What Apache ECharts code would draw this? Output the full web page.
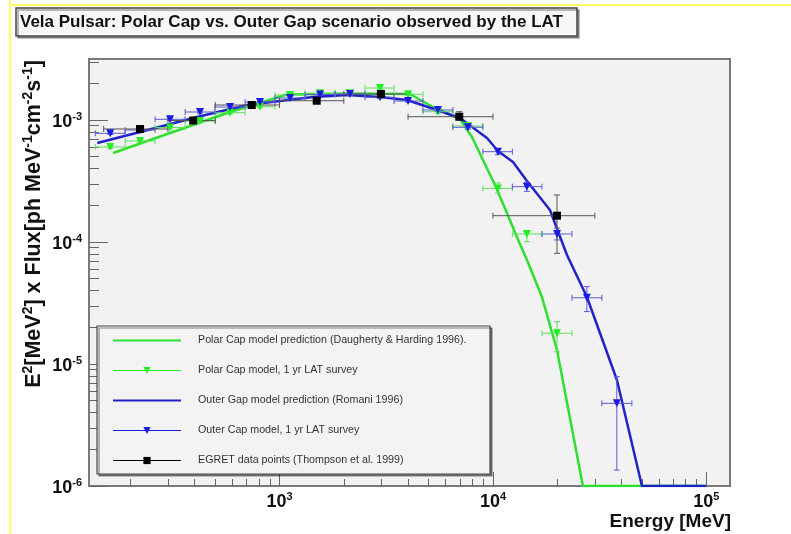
<!DOCTYPE html>
<html><head><meta charset="utf-8">
<script src="https://cdn.jsdelivr.net/npm/echarts@6/dist/echarts.min.js"></script>
<style>html,body{margin:0;padding:0;background:#ffffff}#c{width:791px;height:534px}</style>
</head><body><div id="c"></div>
<script>
// ---------------- data ----------------
const polarModelE = [166, 586, 1084, 2071, 4085, 5236, 7004, 7972, 9074, 10220, 11630, 12950, 14430, 16960, 19950, 26390, 100000];
const polarModelF = [5.36e-4, 1.163e-3, 1.618e-3, 1.649e-3, 1.633e-3, 1.278e-3, 1.019e-3, 7.26e-4, 4.53e-4, 2.93e-4, 1.729e-4, 1.099e-4, 7.12e-5, 3.54e-5, 1.302e-5, 1e-6, 1e-6];

const outerModelE = [140, 222, 411, 704, 1435, 2071, 2956, 3956, 5467, 7004, 9374, 10550, 12410, 14430, 18490, 22220, 27560, 38090, 49890, 100000];
const outerModelF = [6.48e-4, 7.97e-4, 1.058e-3, 1.327e-3, 1.543e-3, 1.603e-3, 1.543e-3, 1.459e-3, 1.208e-3, 1.038e-3, 7.12e-4, 5.57e-4, 4.53e-4, 3.16e-4, 1.83e-4, 7.82e-5, 3.54e-5, 7.39e-6, 1e-6, 1e-6];

// LAT simulated points: bin centres and bin edges (MeV)
const latE = [161, 222, 307, 424, 586, 810, 1120, 1548, 2139, 2956, 4000, 5520, 7630, 10540, 14420, 19950, 27540, 38050];
const latEdges = [137, 189, 261, 361, 498, 689, 952, 1317, 1820, 2515, 3439, 4699, 6490, 8968, 12328, 16961, 23440, 32371, 44750];

const polarLatF   = [6.01e-4, 6.73e-4, 8.68e-4, 9.81e-4, 1.148e-3, 1.285e-3, 1.603e-3, 1.655e-3, 1.655e-3, 1.828e-3, 1.625e-3, 1.17e-3, 8.93e-4, 2.75e-4, 1.164e-4, 1.787e-5];
const polarLatFlo = [5.85e-4, 6.55e-4, 8.45e-4, 9.55e-4, 1.12e-3, 1.255e-3, 1.565e-3, 1.615e-3, 1.615e-3, 1.78e-3, 1.58e-3, 1.13e-3, 8.55e-4, 2.52e-4, 1.007e-4, 1.26e-5];
const polarLatFhi = [6.17e-4, 6.9e-4, 8.9e-4, 1.007e-3, 1.176e-3, 1.315e-3, 1.64e-3, 1.695e-3, 1.695e-3, 1.875e-3, 1.67e-3, 1.21e-3, 9.3e-4, 3.05e-4, 1.216e-4, 2.22e-5];

const outerLatF   = [7.78e-4, 8.28e-4, 1.013e-3, 1.163e-3, 1.278e-3, 1.404e-3, 1.515e-3, 1.618e-3, 1.633e-3, 1.535e-3, 1.432e-3, 1.208e-3, 8.71e-4, 5.50e-4, 2.84e-4, 1.164e-4, 3.49e-5, 4.76e-6];
const outerLatFlo = [7.6e-4, 8.1e-4, 9.9e-4, 1.138e-3, 1.25e-3, 1.375e-3, 1.485e-3, 1.585e-3, 1.6e-3, 1.503e-3, 1.4e-3, 1.175e-3, 8.4e-4, 5.2e-4, 2.6e-4, 1.04e-4, 2.69e-5, 1.35e-6];
const outerLatFhi = [7.96e-4, 8.46e-4, 1.036e-3, 1.188e-3, 1.306e-3, 1.433e-3, 1.545e-3, 1.651e-3, 1.666e-3, 1.567e-3, 1.464e-3, 1.241e-3, 9.02e-4, 5.8e-4, 3.08e-4, 1.30e-4, 4.31e-5, 7.87e-6];

// EGRET data points
const egretE   = [222, 394, 741, 1493, 2986, 6950, 19950];
const egretElo = [150, 300, 500, 1000, 2000, 4000, 10000];
const egretEhi = [300, 500, 1000, 2000, 4000, 10000, 30000];
const egretF   = [8.44e-4, 9.9e-4, 1.327e-3, 1.439e-3, 1.633e-3, 1.064e-3, 1.643e-4];
const egretFlo = [8.2e-4, 9.6e-4, 1.29e-3, 1.40e-3, 1.59e-3, 1.0e-3, 8.07e-5];
const egretFhi = [8.7e-4, 1.02e-3, 1.365e-3, 1.48e-3, 1.68e-3, 1.17e-3, 2.43e-4];

// axis ticks
const xMajorTicks = [1000, 10000, 100000];
const xMinorTicks = [200, 300, 400, 500, 600, 700, 800, 900, 2000, 3000, 4000, 5000, 6000, 7000, 8000, 9000, 20000, 30000, 40000, 50000, 60000, 70000, 80000, 90000];
const yMajorTicks = [1e-6, 1e-5, 1e-4, 1e-3];
const yMinorTicks = [2e-6, 3e-6, 4e-6, 5e-6, 6e-6, 7e-6, 8e-6, 9e-6, 2e-5, 3e-5, 4e-5, 5e-5, 6e-5, 7e-5, 8e-5, 9e-5, 2e-4, 3e-4, 4e-4, 5e-4, 6e-4, 7e-4, 8e-4, 9e-4, 2e-3, 3e-3];

const names = [
  'Polar Cap model prediction (Daugherty & Harding 1996).',
  'Polar Cap model, 1 yr LAT survey',
  'Outer Gap model prediction (Romani 1996)',
  'Outer Cap model, 1 yr LAT survey',
  'EGRET data points (Thompson et al. 1999)'
];
const titleText = 'Vela Pulsar: Polar Cap vs. Outer Gap scenario observed by the LAT';
const xTitle = 'Energy [MeV]';

// ---------------- build ----------------
const FONT = '"Liberation Sans", Arial, Helvetica, sans-serif';
const C_GREEN = '#2ee02e', C_GREEN_PT = '#22f022', C_GREEN_ERR = '#5ee05e';
const C_BLUE = '#2222c8', C_BLUE_PT = '#1a1ae0', C_BLUE_ERR = '#5a5ad8';
const C_BLACK = '#000000', C_BLACK_ERR = '#555555';

const pairs = (xs, ys) => ys.map((y, i) => [xs[i], y]);
const latErr = (F, lo, hi) => F.map((f, i) => [latE[i], f, latEdges[i], latEdges[i + 1], lo[i], hi[i]]);
const egretErr = egretF.map((f, i) => [egretE[i], f, egretElo[i], egretEhi[i], egretFlo[i], egretFhi[i]]);

function errorBars(color, cap) {
  return function (params, api) {
    const x = api.value(0), y = api.value(1);
    const pL = api.coord([api.value(2), y]), pR = api.coord([api.value(3), y]);
    const pB = api.coord([x, api.value(4)]), pT = api.coord([x, api.value(5)]);
    const style = { stroke: color, lineWidth: 1 };
    const L = (x1, y1, x2, y2) => ({ type: 'line', shape: { x1, y1, x2, y2 }, style });
    return { type: 'group', children: [
      L(pL[0], pL[1], pR[0], pR[1]), L(pB[0], pB[1], pT[0], pT[1]),
      L(pL[0], pL[1] - cap, pL[0], pL[1] + cap), L(pR[0], pR[1] - cap, pR[0], pR[1] + cap),
      L(pT[0] - cap, pT[1], pT[0] + cap, pT[1]), L(pB[0] - cap, pB[1], pB[0] + cap, pB[1])
    ]};
  };
}

const supFmt = v => '{b|10}{s|' + Math.round(Math.log10(v)) + '}';
const supRich = {
  b: { fontSize: 18, fontWeight: 'bold', fontFamily: FONT, color: '#111', lineHeight: 18, padding: [4, 0, 0, 0] },
  s: { fontSize: 11, fontWeight: 'bold', fontFamily: FONT, color: '#111', lineHeight: 11, verticalAlign: 'top' }
};

const X_MIN = 128, X_MAX = 129000, Y_MIN = 1e-6, Y_MAX = 0.0031623;

const chart = echarts.init(document.getElementById('c'), null, { renderer: 'canvas' });
chart.setOption({
  backgroundColor: '#ffffff',
  animation: false,
  title: {
    text: titleText, left: 16, top: 8, padding: [6, 14, 5, 4],
    backgroundColor: '#f7f7f7', borderColor: '#444', borderWidth: 1.5,
    shadowColor: 'rgba(0,0,0,0.35)', shadowOffsetX: 2, shadowOffsetY: 2, shadowBlur: 0,
    textStyle: { fontSize: 17, fontWeight: 'bold', fontFamily: FONT, color: '#111' }
  },
  grid: { left: 89, top: 59, right: 61, bottom: 48, outerBoundsMode: 'none', containLabel: false,
    show: true, backgroundColor: '#f2f2f2', borderColor: '#7a7a7a', borderWidth: 2 },
  legend: {
    orient: 'vertical', left: 112, top: 335, itemWidth: 68, itemHeight: 9, itemGap: 19, padding: 0,
    selectedMode: false, z: 6,
    textStyle: { fontSize: 10.7, color: '#333', fontFamily: FONT, padding: [0, 0, 0, 12] },
    data: [
      { name: names[0], itemStyle: { opacity: 0 } },
      { name: names[1], lineStyle: { color: C_GREEN_PT, width: 1, opacity: 1 }, itemStyle: { color: C_GREEN_PT } },
      { name: names[2], itemStyle: { opacity: 0 } },
      { name: names[3], lineStyle: { color: C_BLUE_PT, width: 1, opacity: 1 }, itemStyle: { color: C_BLUE_PT } },
      { name: names[4], lineStyle: { color: C_BLACK, width: 1, opacity: 1 }, itemStyle: { color: C_BLACK } }
    ]
  },
  xAxis: [
    { type: 'log', min: X_MIN, max: X_MAX, axisLine: { show: false }, splitLine: { show: false },
      axisTick: { inside: true, length: 14, lineStyle: { color: '#666' }, customValues: xMajorTicks },
      axisLabel: { customValues: xMajorTicks, formatter: supFmt, rich: supRich, margin: 5 } },
    { type: 'log', min: X_MIN, max: X_MAX, position: 'bottom', axisLine: { show: false }, splitLine: { show: false },
      axisLabel: { show: false },
      axisTick: { inside: true, length: 7, lineStyle: { color: '#666' }, customValues: xMinorTicks } }
  ],
  yAxis: [
    { type: 'log', min: Y_MIN, max: Y_MAX, axisLine: { show: false }, splitLine: { show: false },
      axisTick: { inside: true, length: 19, lineStyle: { color: '#666' }, customValues: yMajorTicks },
      axisLabel: { customValues: yMajorTicks, formatter: supFmt, rich: supRich, margin: 7 } },
    { type: 'log', min: Y_MIN, max: Y_MAX, position: 'left', axisLine: { show: false }, splitLine: { show: false },
      axisLabel: { show: false },
      axisTick: { inside: true, length: 10, lineStyle: { color: '#666' }, customValues: yMinorTicks } }
  ],
  graphic: [
    { type: 'line', shape: { x1: 10, y1: 0, x2: 10, y2: 534 }, style: { stroke: '#ffff66', lineWidth: 2 }, z: 0 },
    { type: 'line', shape: { x1: 10, y1: 5, x2: 791, y2: 5 }, style: { stroke: '#ffff66', lineWidth: 2 }, z: 0 },
    { type: 'rect', shape: { x: 97, y: 326, width: 393, height: 148 },
      style: { fill: '#f3f3f3', stroke: '#444', lineWidth: 1.2, shadowColor: 'rgba(0,0,0,0.45)', shadowOffsetX: 2, shadowOffsetY: 2, shadowBlur: 0 }, z: 5 },
    { type: 'text', x: 731, y: 522, z: 5,
      style: { text: xTitle, align: 'right', verticalAlign: 'middle', fill: '#111',
        font: 'bold 19px ' + FONT } },
    { type: 'text', x: 32, y: 224, rotation: Math.PI / 2, z: 5,
      style: {
        text: '{n|E}{s|2}{n|[MeV}{s|2}{n|] x Flux[ph MeV}{s|-1}{n|cm}{s|-2}{n|s}{s|-1}{n|]}',
        align: 'center', verticalAlign: 'middle', fill: '#111',
        rich: {
          n: { fontSize: 21.5, fontWeight: 'bold', fontFamily: FONT, fill: '#111', lineHeight: 21, padding: [5, 0, 0, 0] },
          s: { fontSize: 14, fontWeight: 'bold', fontFamily: FONT, fill: '#111', lineHeight: 14, verticalAlign: 'top' }
        }
      } }
  ],
  series: [
    { name: names[0], type: 'line', data: pairs(polarModelE, polarModelF), symbol: 'none',
      lineStyle: { color: C_GREEN, width: 2.5 }, itemStyle: { color: C_GREEN }, z: 2, silent: true },
    { name: 'polarLatErr', type: 'custom', data: latErr(polarLatF, polarLatFlo, polarLatFhi),
      renderItem: errorBars(C_GREEN_ERR, 3), encode: { x: 0, y: 1 }, z: 3, silent: true },
    { name: names[1], type: 'line', data: pairs(latE, polarLatF), symbol: 'triangle', symbolRotate: 180, symbolSize: 8,
      lineStyle: { color: C_GREEN_PT, width: 1, opacity: 0 }, itemStyle: { color: C_GREEN_PT }, z: 4, silent: true },
    { name: names[2], type: 'line', data: pairs(outerModelE, outerModelF), symbol: 'none',
      lineStyle: { color: C_BLUE, width: 2.5 }, itemStyle: { color: C_BLUE }, z: 2, silent: true },
    { name: 'outerLatErr', type: 'custom', data: latErr(outerLatF, outerLatFlo, outerLatFhi),
      renderItem: errorBars(C_BLUE_ERR, 3), encode: { x: 0, y: 1 }, z: 3, silent: true },
    { name: names[3], type: 'line', data: pairs(latE, outerLatF), symbol: 'triangle', symbolRotate: 180, symbolSize: 8,
      lineStyle: { color: C_BLUE_PT, width: 1, opacity: 0 }, itemStyle: { color: C_BLUE_PT }, z: 4, silent: true },
    { name: 'egretErr', type: 'custom', data: egretErr,
      renderItem: errorBars(C_BLACK_ERR, 3), encode: { x: 0, y: 1 }, z: 3, silent: true },
    { name: names[4], type: 'line', data: pairs(egretE, egretF), symbol: 'rect', symbolSize: 8,
      lineStyle: { color: C_BLACK, width: 1, opacity: 0 }, itemStyle: { color: C_BLACK }, z: 4, silent: true }
  ]
});
</script>
</body></html>
